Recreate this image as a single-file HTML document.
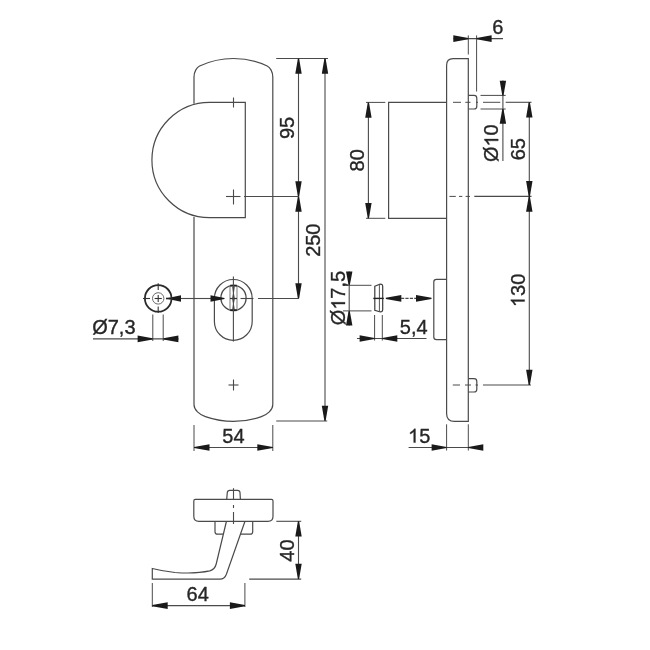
<!DOCTYPE html>
<html><head><meta charset="utf-8"><style>
html,body{margin:0;padding:0;background:#fff;}
body{width:650px;height:650px;overflow:hidden;}
svg{display:block;}
text{font-family:"Liberation Sans",sans-serif;fill:#262626;stroke:#262626;stroke-width:0.35px;}
svg{will-change:transform;}
</style></head><body>
<svg width="650" height="650" viewBox="0 0 650 650">
<rect width="650" height="650" fill="#fff"/>
<path d="M194,103.8 L194,77 C194,72 196.6,67.4 199.6,66 A80,80 0 0 1 267.2,66 C270.2,67.4 272.8,72 272.8,77 L272.8,404.5 C272.8,410 267.3,414.6 261.4,416.6 A85.8,85.8 0 0 1 205.4,416.6 C199.5,414.6 194,410 194,404.5 L194,217" fill="none" stroke="#4a4a4a" stroke-width="1.2"/>
<path d="M209.6,102.3 L245.3,102.3 L245.3,217.7 L209.6,217.7 A57.7,57.7 0 0 1 209.6,102.3 Z" fill="none" stroke="#4a4a4a" stroke-width="1.2"/>
<line x1="233.5" y1="97.5" x2="233.5" y2="107.5" stroke="#4a4a4a" stroke-width="1.1"/>
<line x1="226" y1="196.5" x2="240.5" y2="196.5" stroke="#4a4a4a" stroke-width="1.1"/>
<line x1="233.5" y1="189.5" x2="233.5" y2="204.5" stroke="#4a4a4a" stroke-width="1.1"/>
<line x1="228.5" y1="385" x2="238.5" y2="385" stroke="#4a4a4a" stroke-width="1.1"/>
<line x1="233.5" y1="379.5" x2="233.5" y2="390.5" stroke="#4a4a4a" stroke-width="1.1"/>
<path d="M214.4,298.4 A18.9,18.9 0 0 1 252.2,298.4 L252.2,321.4 A18.9,18.9 0 0 1 214.4,321.4 Z" fill="none" stroke="#4a4a4a" stroke-width="1.2"/>
<circle cx="233.5" cy="297.9" r="12.6" fill="none" stroke="#4a4a4a" stroke-width="1.3"/>
<line x1="230" y1="285.5" x2="230" y2="310.5" stroke="#888" stroke-width="1.1"/>
<line x1="237" y1="285.5" x2="237" y2="310.5" stroke="#888" stroke-width="1.1"/>
<line x1="230.2" y1="285.6" x2="236.8" y2="285.6" stroke="#222" stroke-width="1.8"/>
<line x1="230.2" y1="310.2" x2="236.8" y2="310.2" stroke="#222" stroke-width="1.8"/>
<polygon points="232.3,286.5 234.7,286.5 233.9,293.2 234.6,297.5 234.6,299.5 233.9,303.8 234.7,310 232.3,310 233.1,303.8 232.4,299.5 232.4,297.5 233.1,293.2" fill="#2a2a2a"/>
<line x1="230" y1="298.5" x2="237" y2="298.5" stroke="#333" stroke-width="1.2"/>
<line x1="233.4" y1="276.5" x2="233.4" y2="341.5" stroke="#4a4a4a" stroke-width="1.1"/>
<line x1="240.5" y1="298.5" x2="253.5" y2="298.5" stroke="#4a4a4a" stroke-width="1.1"/>
<line x1="258" y1="298.5" x2="298.5" y2="298.5" stroke="#4a4a4a" stroke-width="1.1"/>
<line x1="181" y1="298.5" x2="211" y2="298.5" stroke="#4a4a4a" stroke-width="1.1"/>
<polygon points="224.5,297.9 224.5,299.1 210.5,301.8 210.5,295.2" fill="#1a1a1a"/>
<polygon points="168,297.9 168,299.1 181,301.8 181,295.2" fill="#1a1a1a"/>
<circle cx="158.2" cy="298.4" r="13.3" fill="none" stroke="#2a2a2a" stroke-width="1.8"/>
<circle cx="158.2" cy="298.4" r="5.7" fill="none" stroke="#6a6a6a" stroke-width="1"/>
<line x1="154.6" y1="298.5" x2="161.8" y2="298.5" stroke="#333" stroke-width="1.1"/>
<line x1="158.2" y1="294.9" x2="158.2" y2="302.1" stroke="#333" stroke-width="1.1"/>
<line x1="143" y1="298.5" x2="150" y2="298.5" stroke="#333" stroke-width="1.1"/>
<line x1="166" y1="298.5" x2="170" y2="298.5" stroke="#222" stroke-width="1.6"/>
<line x1="158.2" y1="283.3" x2="158.2" y2="290" stroke="#333" stroke-width="1.1"/>
<line x1="158.2" y1="306.5" x2="158.2" y2="313" stroke="#333" stroke-width="1.1"/>
<line x1="152.8" y1="314.5" x2="152.8" y2="341" stroke="#4a4a4a" stroke-width="1"/>
<line x1="163.2" y1="314.5" x2="163.2" y2="341" stroke="#4a4a4a" stroke-width="1"/>
<line x1="93" y1="338.9" x2="178.5" y2="338.9" stroke="#4a4a4a" stroke-width="1.1"/>
<polygon points="152.6,338.3 152.6,339.5 137.6,342.2 137.6,335.6" fill="#1a1a1a"/>
<polygon points="163.4,338.3 163.4,339.5 178.4,342.2 178.4,335.6" fill="#1a1a1a"/>
<text x="92.2" y="334.4" font-size="20">&#216;7,3</text>
<line x1="194" y1="425" x2="194" y2="451" stroke="#4a4a4a" stroke-width="1"/>
<line x1="272.8" y1="425" x2="272.8" y2="451" stroke="#4a4a4a" stroke-width="1"/>
<line x1="194" y1="447.5" x2="272.8" y2="447.5" stroke="#4a4a4a" stroke-width="1.1"/>
<polygon points="194,446.9 194,448.1 209.5,450.8 209.5,444.2" fill="#1a1a1a"/>
<polygon points="272.8,446.9 272.8,448.1 257.3,450.8 257.3,444.2" fill="#1a1a1a"/>
<text x="222.28" y="443.1" font-size="20">54</text>
<line x1="276.2" y1="58.5" x2="328" y2="58.5" stroke="#4a4a4a" stroke-width="1.1"/>
<line x1="298.5" y1="58.5" x2="298.5" y2="298.5" stroke="#4a4a4a" stroke-width="1.1"/>
<polygon points="297.9,58.5 299.1,58.5 301.7,73.8 295.3,73.8" fill="#1a1a1a"/>
<polygon points="297.9,196.5 299.1,196.5 301.7,181.2 295.3,181.2" fill="#1a1a1a"/>
<polygon points="297.9,196.5 299.1,196.5 301.7,211.8 295.3,211.8" fill="#1a1a1a"/>
<polygon points="297.9,298.5 299.1,298.5 301.7,283.2 295.3,283.2" fill="#1a1a1a"/>
<line x1="244" y1="196.5" x2="298.5" y2="196.5" stroke="#4a4a4a" stroke-width="1.1"/>
<text transform="translate(294.3,127.9) rotate(-90)" x="-11.12" y="0" font-size="20">95</text>
<line x1="325" y1="58.5" x2="325" y2="421" stroke="#4a4a4a" stroke-width="1.1"/>
<polygon points="324.4,58.5 325.6,58.5 328.2,73.8 321.8,73.8" fill="#1a1a1a"/>
<polygon points="324.4,421 325.6,421 328.2,405.7 321.8,405.7" fill="#1a1a1a"/>
<line x1="276.2" y1="421" x2="327.2" y2="421" stroke="#4a4a4a" stroke-width="1.1"/>
<text transform="translate(320.2,240.2) rotate(-90)" x="-16.68" y="0" font-size="20">250</text>
<line x1="349.2" y1="271.5" x2="349.2" y2="325.5" stroke="#4a4a4a" stroke-width="1.1"/>
<polygon points="348.6,285.3 349.8,285.3 352.4,271.5 346,271.5" fill="#1a1a1a"/>
<polygon points="348.6,310.9 349.8,310.9 352.4,325.5 346,325.5" fill="#1a1a1a"/>
<line x1="343" y1="285.3" x2="371.5" y2="285.3" stroke="#4a4a4a" stroke-width="1"/>
<line x1="343" y1="310.9" x2="371.5" y2="310.9" stroke="#4a4a4a" stroke-width="1"/>
<text transform="translate(345,298.1) rotate(-90)" x="-27.24" y="0" font-size="20">&#216;<tspan style="fill:transparent;stroke:none">1</tspan>7,5</text>
<path transform="translate(345,298.1) rotate(-90) translate(-11.68,0) scale(0.00977,-0.00977)" d="M763,0 L583,0 L583,1100 C530,1048 458,996 390,958 C322,920 262,893 221,879 L221,1046 C306,1086 400,1144 470,1205 C540,1266 600,1340 636,1409 L763,1409 Z" fill="#262626" stroke="#262626" stroke-width="35.8"/>
<path d="M374.8,286.2 L379.6,284.3 Q382.7,283.6 382.7,286.4 L382.7,309.5 Q382.7,312.2 379.6,311.7 L374.8,310.2 Z" fill="none" stroke="#3a3a3a" stroke-width="1.2"/>
<line x1="379.4" y1="284.3" x2="379.4" y2="311.7" stroke="#555" stroke-width="1"/>
<line x1="373.3" y1="298.4" x2="383.8" y2="298.4" stroke="#222" stroke-width="1.4"/>
<polygon points="385.8,297.8 385.8,299 401.3,301.7 401.3,295.1" fill="#1a1a1a"/>
<line x1="401" y1="298.4" x2="416" y2="298.4" stroke="#4a4a4a" stroke-width="1.1" stroke-dasharray="3.2,1.2"/>
<polygon points="431.5,297.8 431.5,299 416,301.7 416,295.1" fill="#1a1a1a"/>
<line x1="374.6" y1="315" x2="374.6" y2="340.5" stroke="#4a4a4a" stroke-width="1"/>
<line x1="382.3" y1="315" x2="382.3" y2="340.5" stroke="#4a4a4a" stroke-width="1"/>
<line x1="357" y1="338.5" x2="426.5" y2="338.5" stroke="#4a4a4a" stroke-width="1.1"/>
<polygon points="374.6,337.9 374.6,339.1 359.6,341.8 359.6,335.2" fill="#1a1a1a"/>
<polygon points="382.3,337.9 382.3,339.1 397.3,341.8 397.3,335.2" fill="#1a1a1a"/>
<text x="399.8" y="334" font-size="20">5,4</text>
<path d="M468.3,58.7 L468.3,421.4 L454.6,421.4 Q446.6,421.4 446.6,413.4 L446.6,65.3 Q446.6,58.7 453.1,58.7 Z" fill="none" stroke="#4a4a4a" stroke-width="1.2"/>
<path d="M446.6,102.4 L388.6,102.4 L388.6,218.3 L446.6,218.3" fill="none" stroke="#4a4a4a" stroke-width="1.2"/>
<line x1="366" y1="102.4" x2="385.3" y2="102.4" stroke="#4a4a4a" stroke-width="1"/>
<line x1="366" y1="218.3" x2="385.3" y2="218.3" stroke="#4a4a4a" stroke-width="1"/>
<line x1="368.4" y1="102.4" x2="368.4" y2="218.3" stroke="#4a4a4a" stroke-width="1.1"/>
<polygon points="367.8,102.4 369,102.4 371.6,117.7 365.2,117.7" fill="#1a1a1a"/>
<polygon points="367.8,218.3 369,218.3 371.6,203 365.2,203" fill="#1a1a1a"/>
<text transform="translate(363.9,160.3) rotate(-90)" x="-11.12" y="0" font-size="20">80</text>
<path d="M446.6,279.3 L436.5,279.3 Q433.8,279.3 433.8,282 L433.8,337 Q433.8,339.7 436.5,339.7 L446.6,339.7" fill="none" stroke="#4a4a4a" stroke-width="1.2"/>
<path d="M468.3,95.4 L474,95.4 Q476.8,95.4 476.8,98.2 L476.8,106.2 Q476.8,109 474,109 L468.3,109" fill="none" stroke="#4a4a4a" stroke-width="1.2"/>
<path d="M468.3,378.6 L474,378.6 Q476.8,378.6 476.8,381.4 L476.8,389.2 Q476.8,392 474,392 L468.3,392" fill="none" stroke="#4a4a4a" stroke-width="1.2"/>
<line x1="453" y1="102.3" x2="461" y2="102.3" stroke="#4a4a4a" stroke-width="1"/>
<line x1="465.3" y1="102.3" x2="470.5" y2="102.3" stroke="#4a4a4a" stroke-width="1"/>
<line x1="483" y1="102.3" x2="500.3" y2="102.3" stroke="#4a4a4a" stroke-width="1"/>
<line x1="476.2" y1="102.3" x2="478" y2="102.3" stroke="#4a4a4a" stroke-width="1"/>
<line x1="505.7" y1="102.3" x2="531.5" y2="102.3" stroke="#4a4a4a" stroke-width="1.1"/>
<line x1="449.4" y1="196.4" x2="455.8" y2="196.4" stroke="#4a4a4a" stroke-width="1"/>
<line x1="459" y1="196.4" x2="462.3" y2="196.4" stroke="#4a4a4a" stroke-width="1"/>
<line x1="465.6" y1="196.4" x2="470" y2="196.4" stroke="#4a4a4a" stroke-width="1"/>
<line x1="474.3" y1="196.4" x2="531.5" y2="196.4" stroke="#4a4a4a" stroke-width="1.1"/>
<line x1="452.8" y1="385" x2="460" y2="385" stroke="#4a4a4a" stroke-width="1"/>
<line x1="465" y1="385" x2="471" y2="385" stroke="#4a4a4a" stroke-width="1"/>
<line x1="475.5" y1="385" x2="478" y2="385" stroke="#4a4a4a" stroke-width="1"/>
<line x1="483" y1="385" x2="531" y2="385" stroke="#4a4a4a" stroke-width="1.1"/>
<line x1="468.3" y1="35.4" x2="468.3" y2="54.5" stroke="#4a4a4a" stroke-width="1"/>
<line x1="476.6" y1="35.4" x2="476.6" y2="91.5" stroke="#4a4a4a" stroke-width="1"/>
<line x1="453.5" y1="38.6" x2="503" y2="38.6" stroke="#4a4a4a" stroke-width="1.1"/>
<polygon points="468.3,38 468.3,39.2 453.3,41.9 453.3,35.3" fill="#1a1a1a"/>
<polygon points="476.6,38 476.6,39.2 491.6,41.9 491.6,35.3" fill="#1a1a1a"/>
<text x="492.2" y="34.2" font-size="20">6</text>
<line x1="480.5" y1="95.4" x2="505.7" y2="95.4" stroke="#4a4a4a" stroke-width="1"/>
<line x1="480.5" y1="109" x2="505.7" y2="109" stroke="#4a4a4a" stroke-width="1"/>
<line x1="502.9" y1="80.5" x2="502.9" y2="161" stroke="#4a4a4a" stroke-width="1.1"/>
<polygon points="502.3,95.4 503.5,95.4 506.1,80.8 499.7,80.8" fill="#1a1a1a"/>
<polygon points="502.3,109 503.5,109 506.1,123.8 499.7,123.8" fill="#1a1a1a"/>
<text transform="translate(498.2,143.2) rotate(-90)" x="-18.9" y="0" font-size="20">&#216;<tspan style="fill:transparent;stroke:none">1</tspan>0</text>
<path transform="translate(498.2,143.2) rotate(-90) translate(-3.34,0) scale(0.00977,-0.00977)" d="M763,0 L583,0 L583,1100 C530,1048 458,996 390,958 C322,920 262,893 221,879 L221,1046 C306,1086 400,1144 470,1205 C540,1266 600,1340 636,1409 L763,1409 Z" fill="#262626" stroke="#262626" stroke-width="35.8"/>
<line x1="529.3" y1="102.3" x2="529.3" y2="385" stroke="#4a4a4a" stroke-width="1.1"/>
<polygon points="528.7,102.3 529.9,102.3 532.5,117.6 526.1,117.6" fill="#1a1a1a"/>
<polygon points="528.7,196.4 529.9,196.4 532.5,181.1 526.1,181.1" fill="#1a1a1a"/>
<polygon points="528.7,196.4 529.9,196.4 532.5,211.7 526.1,211.7" fill="#1a1a1a"/>
<polygon points="528.7,385 529.9,385 532.5,369.7 526.1,369.7" fill="#1a1a1a"/>
<text transform="translate(524.5,149.2) rotate(-90)" x="-11.12" y="0" font-size="20">65</text>
<text transform="translate(524.6,290.4) rotate(-90)" x="-16.68" y="0" font-size="20"><tspan style="fill:transparent;stroke:none">1</tspan>30</text>
<path transform="translate(524.6,290.4) rotate(-90) translate(-16.68,0) scale(0.00977,-0.00977)" d="M763,0 L583,0 L583,1100 C530,1048 458,996 390,958 C322,920 262,893 221,879 L221,1046 C306,1086 400,1144 470,1205 C540,1266 600,1340 636,1409 L763,1409 Z" fill="#262626" stroke="#262626" stroke-width="35.8"/>
<line x1="446.6" y1="424.3" x2="446.6" y2="450.5" stroke="#4a4a4a" stroke-width="1"/>
<line x1="468.3" y1="424.3" x2="468.3" y2="450.5" stroke="#4a4a4a" stroke-width="1"/>
<line x1="408.6" y1="447.5" x2="483" y2="447.5" stroke="#4a4a4a" stroke-width="1.1"/>
<polygon points="446.6,446.9 446.6,448.1 431.6,450.8 431.6,444.2" fill="#1a1a1a"/>
<polygon points="468.3,446.9 468.3,448.1 483.3,450.8 483.3,444.2" fill="#1a1a1a"/>
<text x="408" y="442.6" font-size="20"><tspan style="fill:transparent;stroke:none">1</tspan>5</text>
<path transform="translate(408,442.6) scale(0.00977,-0.00977)" d="M763,0 L583,0 L583,1100 C530,1048 458,996 390,958 C322,920 262,893 221,879 L221,1046 C306,1086 400,1144 470,1205 C540,1266 600,1340 636,1409 L763,1409 Z" fill="#262626" stroke="#262626" stroke-width="35.8"/>
<path d="M195.3,499.4 L271.5,499.4 Q273,499.4 273,500.9 L273,516.2 Q273,521.3 267.9,521.3 L198.9,521.3 Q193.8,521.3 193.8,516.2 L193.8,500.9 Q193.8,499.4 195.3,499.4 Z" fill="none" stroke="#4a4a4a" stroke-width="1.2"/>
<path d="M226.7,499.4 L227.3,492.5 Q227.5,490.3 229.7,490.3 L237.6,490.3 Q239.8,490.3 240,492.5 L240.4,499.4" fill="none" stroke="#4a4a4a" stroke-width="1.2"/>
<line x1="233.5" y1="488.2" x2="233.5" y2="500" stroke="#4a4a4a" stroke-width="1.1"/>
<line x1="233.5" y1="505" x2="233.5" y2="508" stroke="#4a4a4a" stroke-width="1.1"/>
<line x1="233.5" y1="512" x2="233.5" y2="524" stroke="#4a4a4a" stroke-width="1.1"/>
<path d="M223,534.2 L217.5,534.2 Q215,534.2 215,531.7 L215,521.5" fill="none" stroke="#4a4a4a" stroke-width="1.2"/>
<path d="M241,534.2 L250.2,534.2 Q252.7,534.2 252.7,531.7 L252.7,521.5" fill="none" stroke="#4a4a4a" stroke-width="1.2"/>
<path d="M226.4,521.5 L216.2,564 Q214.8,569.5 209.8,570.9 C198,573.5 188,573.5 175,572.5 C166,571.6 158,570 152.3,568.5 L152.3,579.2 L219.9,579.2 Q224.5,579.2 226.4,574.2 L244.9,521.5" fill="none" stroke="#4a4a4a" stroke-width="1.2"/>
<line x1="276.3" y1="521.3" x2="301.2" y2="521.3" stroke="#4a4a4a" stroke-width="1.1"/>
<line x1="249.2" y1="579.1" x2="301.2" y2="579.1" stroke="#4a4a4a" stroke-width="1.1"/>
<line x1="298.5" y1="521.3" x2="298.5" y2="579.1" stroke="#4a4a4a" stroke-width="1.1"/>
<polygon points="297.9,521.3 299.1,521.3 301.7,536.6 295.3,536.6" fill="#1a1a1a"/>
<polygon points="297.9,579.1 299.1,579.1 301.7,563.8 295.3,563.8" fill="#1a1a1a"/>
<text transform="translate(293.6,550.6) rotate(-90)" x="-11.12" y="0" font-size="20">40</text>
<line x1="152.3" y1="583" x2="152.3" y2="607" stroke="#4a4a4a" stroke-width="1"/>
<line x1="244.9" y1="583" x2="244.9" y2="607" stroke="#4a4a4a" stroke-width="1"/>
<line x1="152.3" y1="605.6" x2="244.9" y2="605.6" stroke="#4a4a4a" stroke-width="1.1"/>
<polygon points="152.3,605 152.3,606.2 167.7,608.9 167.7,602.3" fill="#1a1a1a"/>
<polygon points="244.9,605 244.9,606.2 229.9,608.9 229.9,602.3" fill="#1a1a1a"/>
<text x="186.58" y="600.8" font-size="20">64</text>
</svg>
</body></html>
